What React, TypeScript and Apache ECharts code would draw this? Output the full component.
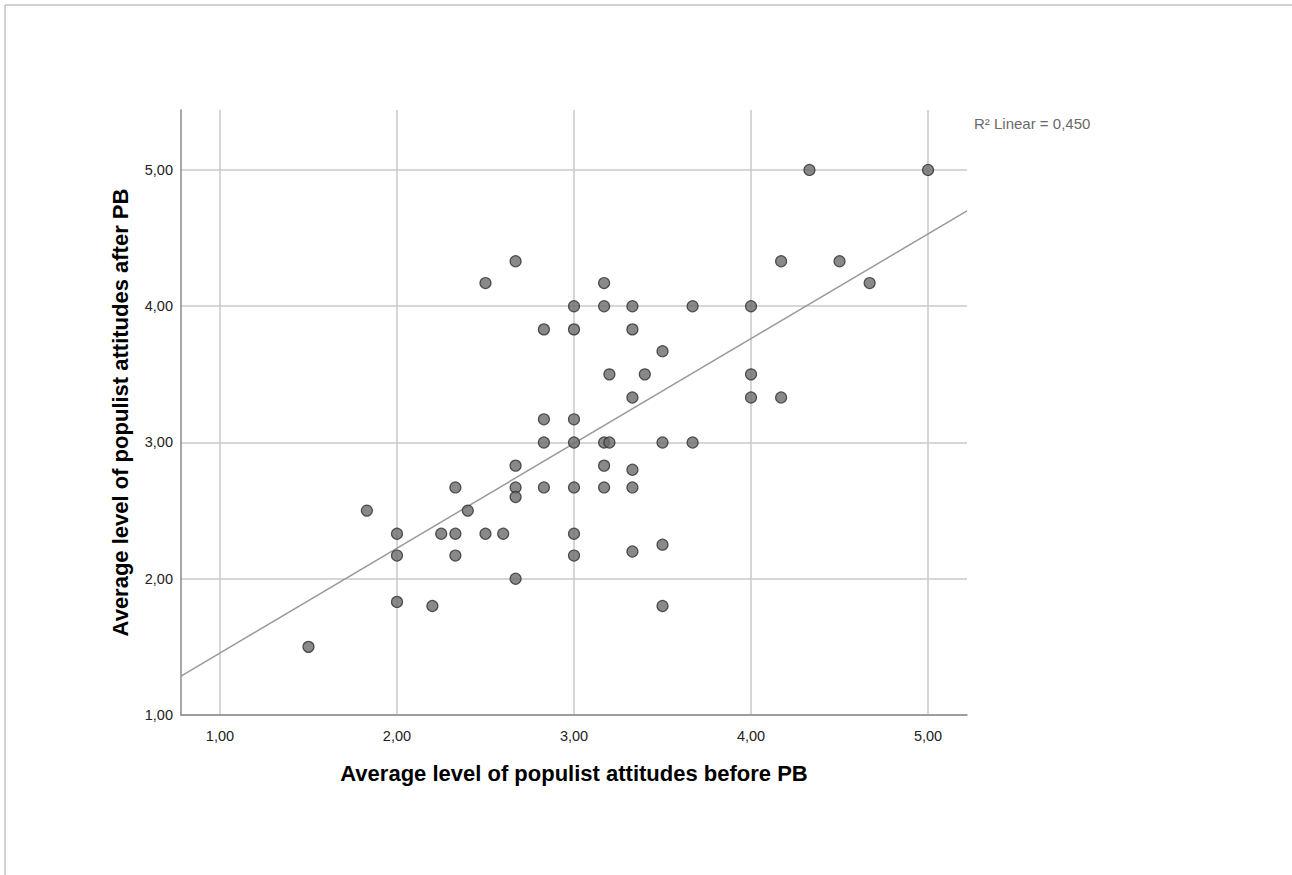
import React, { useEffect, useRef } from "react";
import * as echarts from "echarts";

// Scatter data (before PB, after PB)
const beforePB: number[] = [
  1.5, 1.83, 2.0, 2.0, 2.0, 2.2, 2.25, 2.33, 2.33, 2.33,
  2.4, 2.5, 2.5, 2.6, 2.67, 2.67, 2.67, 2.67, 2.67, 2.83,
  2.83, 2.83, 2.83, 3.0, 3.0, 3.0, 3.0, 3.0, 3.0, 3.0,
  3.17, 3.17, 3.17, 3.2, 3.17, 3.17, 3.2, 3.33, 3.33, 3.33,
  3.33, 3.33, 3.33, 3.4, 3.5, 3.5, 3.5, 3.5, 3.67, 3.67,
  4.0, 4.0, 4.0, 4.17, 4.17, 4.33, 4.5, 4.67, 5.0,
];
const afterPB: number[] = [
  1.5, 2.5, 2.33, 2.17, 1.83, 1.8, 2.33, 2.67, 2.33, 2.17,
  2.5, 2.33, 4.17, 2.33, 4.33, 2.83, 2.67, 2.6, 2.0, 3.83,
  3.17, 3.0, 2.67, 4.0, 3.83, 3.17, 3.0, 2.67, 2.33, 2.17,
  4.17, 4.0, 3.0, 3.0, 2.83, 2.67, 3.5, 4.0, 3.83, 3.33,
  2.8, 2.67, 2.2, 3.5, 3.67, 3.0, 2.25, 1.8, 4.0, 3.0,
  4.0, 3.5, 3.33, 4.33, 3.33, 5.0, 4.33, 4.17, 5.0,
];

// Fit line endpoints
const fitX: number[] = [0.78, 5.22];
const fitY: number[] = [1.286, 4.7];

const tickValues: number[] = [1, 2, 3, 4, 5];
const xTitle = "Average level of populist attitudes before PB";
const yTitle = "Average level of populist attitudes after PB";
const r2Label = "R\u00B2 Linear = 0,450";

const FONT = "'Liberation Sans', Arial, sans-serif";
const fmt = (v: number) => v.toFixed(2).replace(".", ",");

export default function App() {
  const ref = useRef<HTMLDivElement>(null);
  useEffect(() => {
    if (!ref.current) return;
    const chart = echarts.init(ref.current, null, { renderer: "svg" });
    const points = beforePB.map((x, i) => [x, afterPB[i]]);
    const fit = fitX.map((x, i) => [x, fitY[i]]);
    chart.setOption({
      animation: false,
      backgroundColor: "#ffffff",
      grid: { left: 181, top: 110, width: 786, height: 605, containLabel: false },
      xAxis: {
        type: "value",
        min: 0.78,
        max: 5.22,
        name: xTitle,
        nameLocation: "middle",
        nameGap: 47,
        nameTextStyle: { fontFamily: FONT, fontSize: 22, fontWeight: "bold", color: "#000" },
        axisLine: { show: true, lineStyle: { color: "#8a8a8a", width: 1.5 } },
        axisTick: { show: false, customValues: tickValues },
        axisLabel: {
          customValues: tickValues,
          formatter: fmt,
          fontFamily: FONT,
          fontSize: 14.5,
          color: "#222",
          margin: 13,
        },
        splitLine: { show: true, lineStyle: { color: "#c8c8c8", width: 1.5 } },
      },
      yAxis: {
        type: "value",
        min: 1,
        max: 5.44,
        name: yTitle,
        nameLocation: "middle",
        nameGap: 50,
        nameTextStyle: { fontFamily: FONT, fontSize: 22, fontWeight: "bold", color: "#000" },
        axisLine: { show: true, lineStyle: { color: "#8a8a8a", width: 1.5 } },
        axisTick: { show: false, customValues: tickValues },
        axisLabel: {
          customValues: tickValues,
          formatter: fmt,
          fontFamily: FONT,
          fontSize: 14.5,
          color: "#222",
          margin: 8,
        },
        splitLine: { show: true, lineStyle: { color: "#c8c8c8", width: 1.5 } },
      },
      graphic: [
        {
          type: "rect",
          shape: { x: 5, y: 5, width: 1400, height: 1000 },
          style: { fill: "none", stroke: "#a6a6a6", lineWidth: 1 },
          silent: true,
        },
        {
          type: "text",
          x: 974,
          y: 116,
          style: { text: r2Label, fontFamily: FONT, fontSize: 15, fill: "#6a6a6a" },
        },
      ],
      series: [
        {
          type: "line",
          data: fit,
          symbol: "none",
          lineStyle: { color: "#9a9a9a", width: 1.5 },
          silent: true,
          z: 2,
        },
        {
          type: "scatter",
          data: points,
          symbol: "circle",
          symbolSize: 11,
          itemStyle: { color: "#6b6b6b", borderColor: "#303030", borderWidth: 1.2 },
          z: 3,
        },
      ],
    });
    return () => chart.dispose();
  }, []);
  return (
    <div
      ref={ref}
      style={{ position: "absolute", left: 0, top: 0, width: 1292, height: 875 }}
    />
  );
}
